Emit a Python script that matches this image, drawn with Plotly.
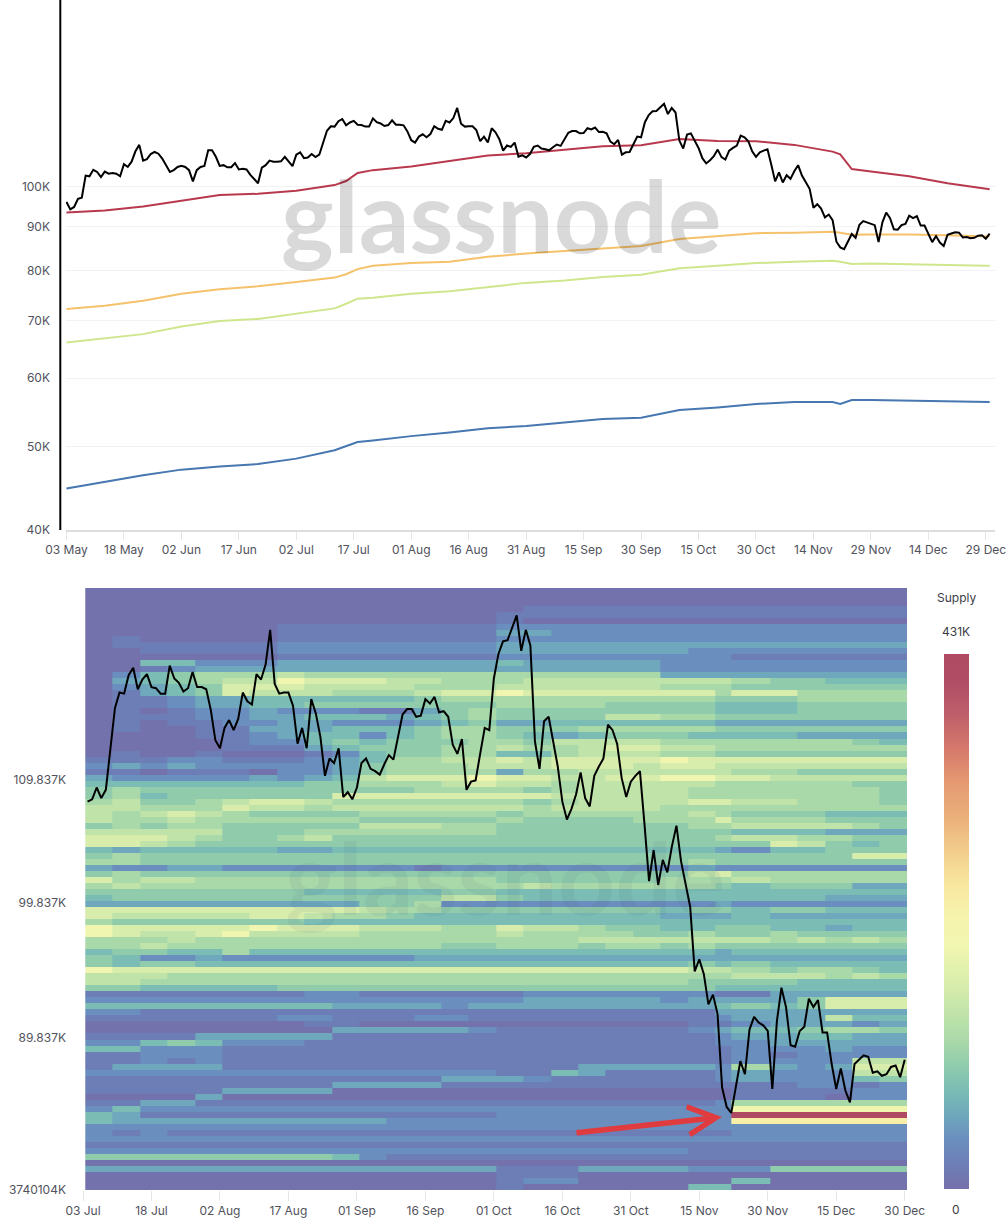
import numpy as np
import pandas as pd
import plotly.graph_objects as go

WIDTH = 1008
HEIGHT = 1232

# daily close in thousands, 03 May to 30 Dec
price_k = [
    96.1, 94.2, 94.8, 96.9, 97.2, 103.1, 102.9, 104.7, 104.1, 102.7, 104.2, 103.6, 103.8, 103.6, 102.9,
    106.3, 105.5, 107.0, 110.0, 111.9, 107.3, 107.7, 109.2, 109.8, 109.3, 107.9, 106.0, 104.1, 104.6, 105.5,
    105.8, 105.5, 104.6, 101.5, 104.6, 105.5, 105.8, 110.3, 110.3, 108.4, 105.8, 106.0, 105.4, 105.4, 106.6,
    104.8, 105.0, 104.8, 103.3, 102.1, 101.0, 105.3, 106.0, 107.3, 107.0, 107.0, 107.1, 108.4, 107.2, 105.7,
    109.0, 109.7,
    108.0, 108.2, 109.2, 108.3, 109.0, 112.4, 116.2, 117.6, 117.5, 119.2, 119.9, 117.9, 118.8, 119.3, 118.1,
    118.0, 117.5, 117.5, 120.1, 118.9, 118.5, 117.7, 118.0, 119.5, 118.1, 118.1, 117.9, 116.0, 113.3, 112.6,
    114.4, 115.1, 114.2, 115.2, 117.6, 116.8, 116.5, 119.3, 118.8, 120.2, 123.5, 118.4, 117.5, 117.6, 117.6,
    116.4, 113.0, 114.4, 112.6, 117.0, 115.7, 113.6, 110.2, 111.7, 111.3, 112.6, 108.4, 108.8, 108.2, 109.2,
    111.3, 111.7, 110.8, 110.6, 110.3, 111.2, 112.0, 111.6, 113.6, 115.6, 116.1, 116.1, 115.4, 115.5, 117.0,
    116.6, 117.2, 115.8, 115.9, 115.4, 112.9, 112.1, 113.4, 109.0, 109.7, 109.8, 112.1, 114.4, 114.2, 118.9,
    121.2,
    122.4, 122.5, 123.6, 124.9, 121.5, 123.5, 122.0, 113.2, 110.8, 115.0, 115.4, 113.3, 111.0, 108.0, 106.5,
    107.4, 108.6, 110.5, 108.3, 107.6, 110.2, 111.0, 111.7, 114.7, 114.2, 113.0, 110.0, 108.4, 109.7, 110.2,
    110.6, 106.1, 101.5, 104.0, 101.2, 103.2, 102.2, 104.3, 106.0, 103.1, 101.2, 99.5,
    94.6, 95.5, 94.4, 92.2, 92.9, 91.5, 86.4, 85.1, 84.7, 86.4, 88.2, 87.3, 90.4, 91.3, 90.9,
    90.7, 90.3, 86.3, 91.0, 93.4, 92.0, 89.3, 89.2, 90.3, 90.6, 92.6, 92.0, 92.5, 90.2, 90.2,
    88.0, 86.3, 87.7, 86.2, 85.4, 88.0, 88.3, 88.6, 88.5, 87.4, 87.5, 87.2, 87.3, 87.8, 87.9,
    87.1, 88.3,
]

# cost basis lines, read at these day offsets from 03 May
band_days = [0, 10, 20, 30, 40, 50, 60, 70, 73, 76, 80, 90, 100, 110, 120, 130, 140, 150, 160, 170,
             180, 190, 200, 202, 205, 210, 220, 230, 240, 241]
red_k = [93.4, 93.9, 94.9, 96.4, 97.9, 98.2, 99.0, 100.5, 101.6, 103.8, 104.6, 105.6, 107.2, 108.8, 109.4,
         110.4, 111.5, 111.8, 113.7, 113.1, 113.0, 111.9, 109.9, 109.1, 104.9, 104.2, 102.9, 101.0, 99.7, 99.4]
orange_k = [72.2, 72.8, 73.8, 75.2, 76.1, 76.7, 77.6, 78.5, 79.2, 80.3, 81.0, 81.6, 81.9, 83.0, 83.7,
            84.3, 84.8, 85.4, 87.0, 87.7, 88.4, 88.5, 88.7, 88.5, 88.0, 88.1, 88.1, 87.9, 87.7, 87.6]
green_k = [66.0, 66.7, 67.5, 68.9, 69.9, 70.3, 71.3, 72.3, 73.2, 74.2, 74.4, 75.2, 75.7, 76.5, 77.4,
           77.9, 78.6, 79.1, 80.5, 81.0, 81.6, 81.9, 82.1, 81.9, 81.4, 81.5, 81.4, 81.2, 81.0, 81.0]
blue_k = [44.7, 45.5, 46.3, 47.0, 47.4, 47.7, 48.4, 49.5, 50.0, 50.6, 50.8, 51.4, 51.9, 52.5, 52.8,
          53.3, 53.8, 54.0, 55.1, 55.5, 56.0, 56.3, 56.3, 56.0, 56.6, 56.6, 56.5, 56.5, 56.3, 56.3]

top_ticks = ["2025-05-03", "2025-05-18", "2025-06-02", "2025-06-17", "2025-07-02", "2025-07-17",
             "2025-08-01", "2025-08-16", "2025-08-31", "2025-09-15", "2025-09-30", "2025-10-15",
             "2025-10-30", "2025-11-14", "2025-11-29", "2025-12-14", "2025-12-29"]
top_labels = ["03 May", "18 May", "02 Jun", "17 Jun", "02 Jul", "17 Jul", "01 Aug", "16 Aug", "31 Aug",
              "15 Sep", "30 Sep", "15 Oct", "30 Oct", "14 Nov", "29 Nov", "14 Dec", "29 Dec"]
bottom_ticks = ["2025-07-03", "2025-07-18", "2025-08-02", "2025-08-17", "2025-09-01", "2025-09-16",
                "2025-10-01", "2025-10-16", "2025-10-31", "2025-11-15", "2025-11-30", "2025-12-15",
                "2025-12-30"]
bottom_labels = ["03 Jul", "18 Jul", "02 Aug", "17 Aug", "01 Sep", "16 Sep", "01 Oct", "16 Oct", "31 Oct",
                 "15 Nov", "30 Nov", "15 Dec", "30 Dec"]
price_ticks = [100000, 90000, 80000, 70000, 60000, 50000, 40000]
price_labels = ["100K", "90K", "80K", "70K", "60K", "50K", "40K"]
heat_ticks = [109837, 99837, 89837, 79760]
heat_labels = ["109.837K", "99.837K", "89.837K", "3740104K"]

# supply per level, in thousands
supply_levels = {"0": 3, "1": 20, "2": 40, "3": 60, "4": 80, "5": 100, "6": 120, "7": 140,
                 "8": 165, "9": 195, "A": 230, "R": 431}

# one string per price bucket from the top, one character per 6 day column
supply_rows = [
    "000000000000000 000000000000000",
    "000000000000000 000000000000000",
    "000000000000000 000000000000000",
    "000000000000000 011111111111111",
    "000000000000000 111111111111111",
    "000000000000000 100000000000000",
    "000000011111111 222222222222222",
    "000000011111111 332222222222222",
    "010000011111111 222222222222222",
    "011111122222222 333333333333333",
    "001111122222222 333333322222222",
    "000000011111111 222222222111111",
    "004422233333333 433333222222222",
    "001233333333333 333333222222222",
    "024566676666666 666666333333333",
    "034567798887766 677777777655444",
    "023458887777666 777777666555555",
    "013458777666788 988888886886666",
    "011233444444566 666666665556666",
    "011233445555555 666655554445555",
    "010122322211356 555555554445555",
    "011122334443456 555577665555555",
    "010112233222345 334444443333333",
    "010011333444566 555666665555555",
    "000011234424566 543455544443333",
    "000001224545556 657777666666654",
    "000001113455566 766788776666666",
    "010010001245566 446777665555555",
    "111221112346677 878888988888888",
    "232322222356667 778887887777777",
    "110111022356666 366777777665555",
    "322222323478889 887788998877777",
    "444444445566678 776777776666655",
    "565555555555666 656777766666665",
    "564555555888888 887777766666665",
    "675567887666666 656777788776665",
    "776668776777777 767777666666666",
    "767876555566666 566666676555444",
    "766766666655555 655556668666555",
    "565665555577766 555555566777765",
    "777775556666666 555555555444333",
    "888765567555555 555555556776655",
    "887655555555555 555555555587545",
    "434444433444444 444444443244555",
    "565555555555555 555555555555588",
    "665555555555555 555555565555555",
    "322332222222122 222222232222222",
    "565555555555555 555555578666666",
    "867766666666666 555555666766666",
    "676666666666666 676666665455533",
    "555555554444455 444444444444444",
    "455555555555577 544444444444333",
    "333333333355622 222222223222222",
    "888888888876655 555555455455444",
    "877777887665444 444444333433333",
    "655555554444444 444444444444444",
    "988888988877766 877655445544344",
    "987789777766666 766665565565555",
    "666766666666666 666777777767676",
    "667666666666655 666566565555555",
    "455446444444444 444444443444444",
    "542232222222333 333333333333333",
    "545544444444444 444444454544444",
    "988888888888888 888888877656654",
    "777666666666666 666666666777676",
    "776666666666666 666666655554444",
    "554444455555555 555555554444444",
    "111111112211111 122222221133333",
    "222222222222222 233333233335888",
    "444444444333323 333333334545888",
    "221111111111111 111111113333333",
    "111111122111221 111111112333744",
    "000000001100000 000000011233323",
    "000000000333332 111111123445665",
    "111133333111111 111111112334433",
    "224542221111111 111111112233333",
    "442221111111111 111111111222322",
    "112221111111111 111111111212222",
    "112121111111111 111111111222277",
    "133331111111111 111333332632388",
    "222222222222222 114311112322277",
    "111111111111133 321111112322245",
    "111111111333311 111111111112212",
    "111113333000000 000000000111122",
    "000030000000000 000000000111022",
    "113311111111111 111111112666666",
    "242222222222222 222222222999999",
    "431111111111111 222222222RRRRRR",
    "433333333332222 222222222AAAAAA",
    "222222222222222 222222222222222",
    "212111111111111 111111111222222",
    "222222222222222 222222222222222",
    "111111111111111 111111111111111",
    "222222222222222 222222211111111",
    "555555555421111 111111111111111",
    "000000000000000 000000000000000",
    "333333333333333 111333322255555",
    "000000000000000 111000000000000",
    "000000000000000 122000000400000",
    "000000000000000 100000044000000",
]

supply_colors = [
    [0.0, "#7570ab"], [0.046, "#6d7eb6"], [0.093, "#6a8fbe"], [0.139, "#6fa8bc"], [0.186, "#7bbdb4"],
    [0.232, "#90ccac"], [0.278, "#aad9a9"], [0.325, "#bfe3a9"], [0.383, "#d8edac"], [0.452, "#f0f6b0"],
    [0.508, "#f6f4ae"], [0.572, "#f8e69e"], [0.634, "#f3cc8c"], [0.695, "#eab07a"], [0.759, "#e59a72"],
    [0.82, "#d77a6b"], [0.882, "#c0606a"], [0.946, "#b04e66"], [1.0, "#b04a63"],
]

TICK_FONT = dict(family="Inter", size=12, color="#51525c")


def px_x(px):
    return px / WIDTH


def px_y(py):
    return 1 - py / HEIGHT


start = pd.Timestamp("2025-05-03")
price_dates = pd.date_range(start, periods=len(price_k), freq="D")
band_dates = start + pd.to_timedelta(band_days, unit="D")
price = np.array(price_k) * 1000

# bottom panel starts on 04 Jul
heat_mask = price_dates >= pd.Timestamp("2025-07-04")

grid = []
for i, row in enumerate(reversed(supply_rows)):
    cells = row.replace(" ", "")
    assert len(cells) == 30, (i, row)
    grid.append([supply_levels[c] for c in cells])

column_edges = list(pd.date_range("2025-07-03 12:00", periods=31, freq="6D"))
column_edges[24] = pd.Timestamp("2025-11-22")  # the new band starts here
row_edges = np.geomspace(79760, 127600, 101)

fig = go.Figure()

for values, color in [(red_k, "#b8394e"), (orange_k, "#f5c26b"), (green_k, "#cfe68d"), (blue_k, "#4677b0")]:
    fig.add_trace(go.Scatter(x=band_dates, y=np.array(values) * 1000, mode="lines",
                             line=dict(color=color, width=2), xaxis="x", yaxis="y", showlegend=False))
fig.add_trace(go.Scatter(x=price_dates, y=price, mode="lines", line=dict(color="#000000", width=2),
                         xaxis="x", yaxis="y", showlegend=False))

fig.add_trace(go.Heatmap(
    x=column_edges, y=row_edges, z=grid, xaxis="x2", yaxis="y2",
    zmin=0, zmax=431, colorscale=supply_colors,
    colorbar=dict(x=px_x(944), xanchor="left", xpad=0, y=px_y(1189), yanchor="bottom", ypad=0,
                  thicknessmode="pixels", thickness=25, lenmode="pixels", len=535,
                  outlinewidth=0, showticklabels=False, ticks=""),
))
fig.add_trace(go.Scatter(x=price_dates[heat_mask], y=price[heat_mask], mode="lines",
                         line=dict(color="#000000", width=2), xaxis="x2", yaxis="y2", showlegend=False))

fig.update_layout(
    width=WIDTH, height=HEIGHT, margin=dict(l=0, r=0, t=0, b=0, autoexpand=False),
    paper_bgcolor="#ffffff", plot_bgcolor="#ffffff", showlegend=False,
    xaxis=dict(domain=[px_x(66), px_x(995)], anchor="y", type="date",
               range=["2025-05-02 21:00", "2025-12-31 09:30"],
               tickmode="array", tickvals=top_ticks, ticktext=top_labels, tickfont=TICK_FONT,
               ticks="outside", ticklen=8, tickcolor="#e6e6e6", showgrid=False,
               showline=True, linecolor="#dddddd", linewidth=2, zeroline=False),
    yaxis=dict(domain=[px_y(530), 1], anchor="x", type="log",
               range=[np.log10(40000), np.log10(40000) + 530 / 862],
               tickmode="array", tickvals=price_ticks, ticktext=price_labels, tickfont=TICK_FONT,
               ticks="", ticklabelstandoff=15, showgrid=True, gridcolor="#f2f2f2", gridwidth=1,
               showline=False, zeroline=False),
    xaxis2=dict(domain=[px_x(83), px_x(907)], anchor="y2", type="date",
                range=["2025-07-03", "2025-12-30 12:00"],
                tickmode="array", tickvals=bottom_ticks, ticktext=bottom_labels, tickfont=TICK_FONT,
                ticks="outside", ticklen=10, tickcolor="#e6e6e6", showgrid=False,
                showline=False, zeroline=False),
    yaxis2=dict(domain=[px_y(1190), px_y(588)], anchor="x2", type="log",
                range=[np.log10(row_edges[0]), np.log10(row_edges[-1])],
                tickmode="array", tickvals=heat_ticks, ticktext=heat_labels, tickfont=TICK_FONT,
                ticks="", ticklabelstandoff=16, showgrid=False, showline=False, zeroline=False),
)

# watermarks
fig.add_annotation(text="glassnode", xref="paper", yref="paper", x=px_x(501), y=px_y(214),
                   xanchor="center", yanchor="middle", showarrow=False,
                   font=dict(family="Lato", size=100, weight=700, color="rgba(0,0,0,0.15)"))
fig.add_annotation(text="glassnode", xref="paper", yref="paper", x=px_x(505), y=px_y(876),
                   xanchor="center", yanchor="middle", showarrow=False,
                   font=dict(family="Lato", size=100, weight=700, color="rgba(50,70,120,0.07)"))

# supply legend text
for label, py in [("Supply", 597), ("431K", 631), ("0", 1209)]:
    fig.add_annotation(text=label, xref="paper", yref="paper", x=px_x(956), y=px_y(py),
                       xanchor="center", yanchor="middle", showarrow=False,
                       font=dict(family="Inter", size=12, color="#3c3c44"))

# red arrow pointing at the new band
fig.add_annotation(text="", xref="paper", yref="paper", axref="pixel", ayref="pixel",
                   x=px_x(722), y=px_y(1117), ax=-147, ay=16,
                   showarrow=True, arrowhead=5, arrowsize=1, arrowwidth=5.5, arrowcolor="#e03c40")

# black bar left of the price axis
fig.add_shape(type="line", xref="paper", yref="paper", x0=px_x(60.3), x1=px_x(60.3), y0=px_y(530), y1=1,
              line=dict(color="#000000", width=2))

fig.write_html("out.html", config={"displayModeBar": False},
               post_script="document.body.style.margin='0';")
